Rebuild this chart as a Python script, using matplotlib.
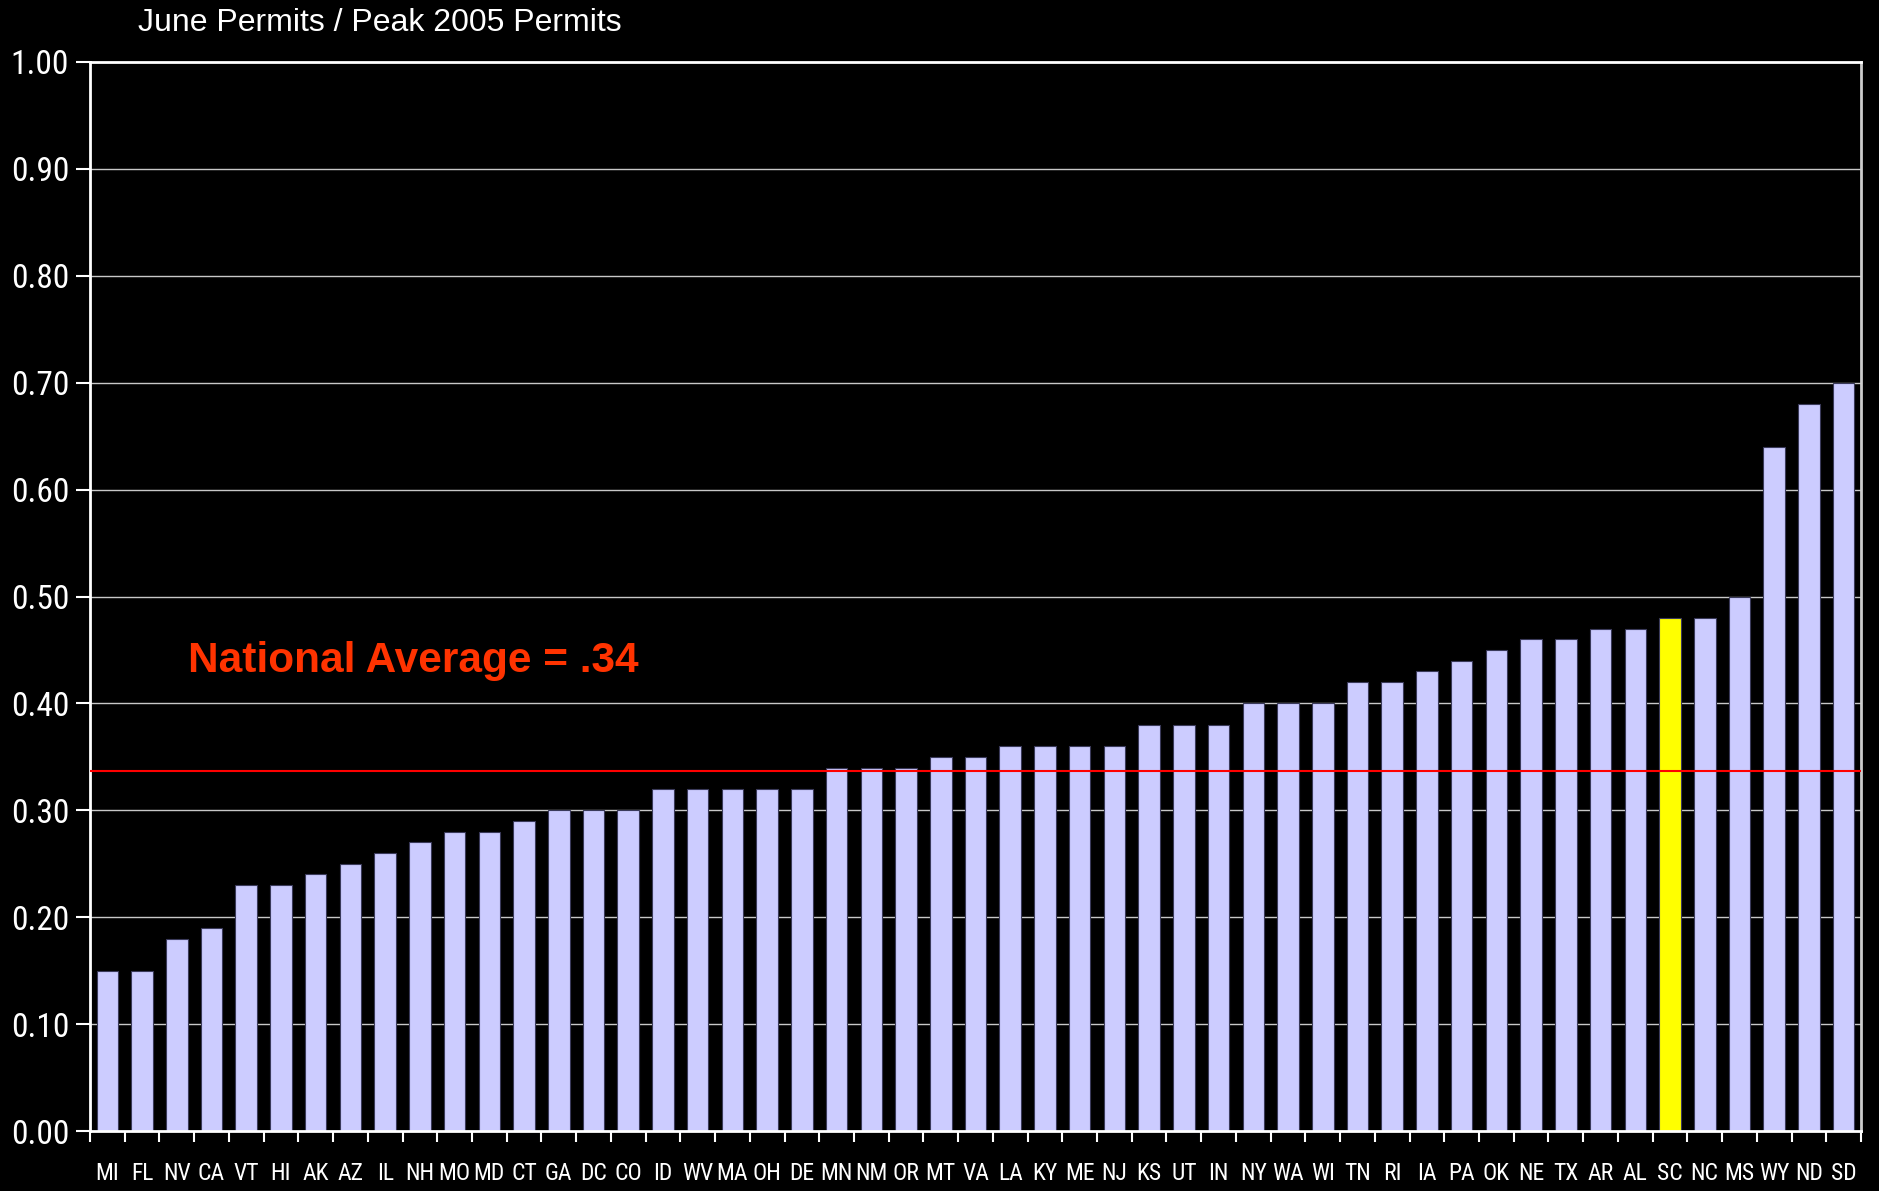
import matplotlib
matplotlib.use("Agg")
import matplotlib.pyplot as plt
from matplotlib import font_manager
from matplotlib.font_manager import FontProperties
import numpy as np

states = ["MI", "FL", "NV", "CA", "VT", "HI", "AK", "AZ", "IL", "NH",
          "MO", "MD", "CT", "GA", "DC", "CO", "ID", "WV", "MA", "OH",
          "DE", "MN", "NM", "OR", "MT", "VA", "LA", "KY", "ME", "NJ",
          "KS", "UT", "IN", "NY", "WA", "WI", "TN", "RI", "IA", "PA",
          "OK", "NE", "TX", "AR", "AL", "SC", "NC", "MS", "WY", "ND", "SD"]
ratio = [0.15, 0.15, 0.18, 0.19, 0.23, 0.23, 0.24, 0.25, 0.26, 0.27,
         0.28, 0.28, 0.29, 0.30, 0.30, 0.30, 0.32, 0.32, 0.32, 0.32,
         0.32, 0.34, 0.34, 0.34, 0.35, 0.35, 0.36, 0.36, 0.36, 0.36,
         0.38, 0.38, 0.38, 0.40, 0.40, 0.40, 0.42, 0.42, 0.43, 0.44,
         0.45, 0.46, 0.46, 0.47, 0.47, 0.48, 0.48, 0.50, 0.64, 0.68, 0.70]
highlight = "SC"
national_avg = 0.337
avg_label = "National Average = .34"
title = "June Permits / Peak 2005 Permits"
yticks = [0.0, 0.1, 0.2, 0.3, 0.4, 0.5, 0.6, 0.7, 0.8, 0.9, 1.0]


def is_regular(f):
    w = f.weight
    w_ok = w in (400, "normal", "regular", "book") or (isinstance(w, int) and 350 <= w <= 450)
    low = f.fname.lower()
    return f.style == "normal" and w_ok and "italic" not in low and "bold" not in low \
        and "light" not in low and "thin" not in low and "medium" not in low and "black" not in low


# look for an upright, regular-weight narrow sans font
narrow_fp = None
cands = [f for f in font_manager.fontManager.ttflist if is_regular(f)]
for pref in ("liberation sans narrow", "arial narrow", "roboto condensed", "open sans condensed",
             "noto sans condensed", "dejavu sans condensed"):
    for f in cands:
        if pref in (f.name.lower() + " " + f.fname.lower().replace("-", " ")):
            narrow_fp = f.fname
            break
    if narrow_fp:
        break
if narrow_fp is None:
    for f in cands:
        nm = f.name.lower() + f.fname.lower()
        if ("narrow" in nm or "condensed" in nm or str(f.stretch) in ("condensed", "semi-condensed")) \
                and "mono" not in nm and "semicondensed" not in nm:
            narrow_fp = f.fname
            break


def fprops(size):
    if narrow_fp:
        return FontProperties(fname=narrow_fp, size=size)
    return FontProperties(family="Liberation Sans", size=size)


W, H = 1879, 1191
fig = plt.figure(figsize=(W / 100, H / 100), dpi=100, facecolor="black")
L, R, T, B = 90, 1861, 62, 1131
ax = fig.add_axes([L / W, 1 - B / H, (R - L) / W, (B - T) / H], facecolor="black")

x = np.arange(len(states))
colors = ["#FFFF00" if s == highlight else "#CCCCFF" for s in states]
ax.bar(x, ratio, width=0.62, color=colors, edgecolor="#3a3a5a", linewidth=0.8, zorder=2)

ax.set_xlim(-0.5, len(states) - 0.5)
ax.set_ylim(0, 1.0)
ax.set_yticks(yticks)
ax.set_yticklabels([f"{v:.2f}" for v in yticks])
for v in yticks[1:-1]:
    ax.axhline(v, color="#c8c8c8", linewidth=1.0, zorder=1)

ax.axhline(national_avg, color="#FF0000", linewidth=1.5, zorder=3)
fig.text(188 / W, 1 - 661 / H, avg_label, color="#FF3300",
         fontsize=30.5, fontweight="bold", family="Liberation Sans", va="center", ha="left")

fig.text(138 / W, 1 - 23 / H, title, color="white", fontsize=23, family="Liberation Sans",
         va="center", ha="left")

ax.set_xticks(x)
ax.set_xticklabels(states)
ax.set_xticks(np.arange(len(states) + 1) - 0.5, minor=True)
ax.tick_params(axis="x", which="major", length=0, pad=22, colors="white")
ax.tick_params(axis="x", which="minor", length=8, width=1.5, color="white", direction="out")
ax.tick_params(axis="y", which="major", length=10, width=1.5, color="white", pad=5,
               labelcolor="white")

# fit x labels into their slot widths (reference shows narrow labels)
renderer = fig.canvas.get_renderer()
slot = (R - L) / len(states)
xsize = 24 if narrow_fp else 20
while xsize > 8:
    widths = []
    for s in states:
        t = fig.text(0, 0, s, fontproperties=fprops(xsize))
        widths.append(t.get_window_extent(renderer).width)
        t.remove()
    if max(widths) <= slot - 2:
        break
    xsize -= 0.5
for lab in ax.get_xticklabels():
    lab.set_fontproperties(fprops(xsize))
ysize = 24 if narrow_fp else 21
for lab in ax.get_yticklabels():
    lab.set_fontproperties(fprops(ysize))

for side in ["left", "bottom", "top"]:
    ax.spines[side].set_color("white")
    ax.spines[side].set_linewidth(2)
ax.spines["right"].set_color("#cccccc")
ax.spines["right"].set_linewidth(2)

fig.savefig("out.png", dpi=100, facecolor="black")
